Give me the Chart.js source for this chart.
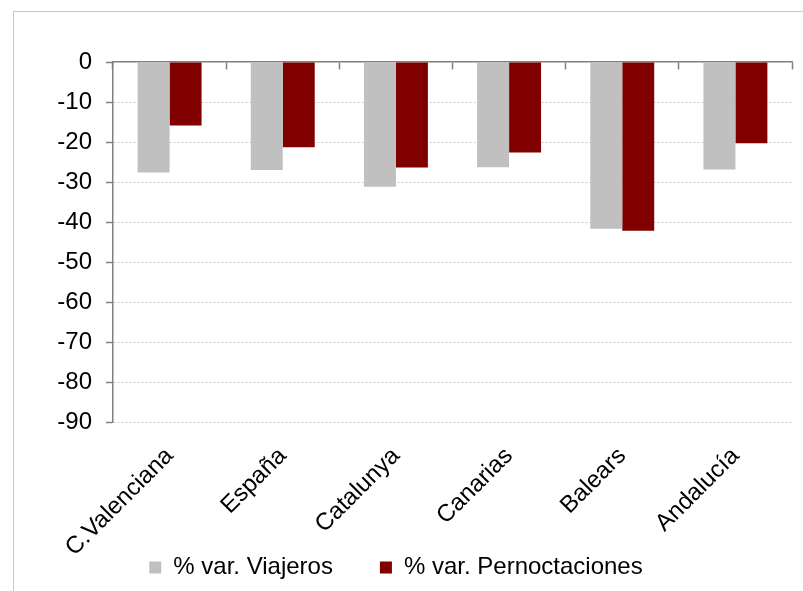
<!DOCTYPE html>
<html>
<head>
<meta charset="utf-8">
<script src="https://cdn.jsdelivr.net/npm/chart.js@4"></script>
<style>
  body { margin: 0; background: #fff; }
  #marco { position: absolute; left: 13px; top: 11px; width: 820px; height: 620px; border: 1px solid #c8c8c8; }
  #caja { position: absolute; left: 0; top: 0; width: 803px; height: 591px; }
</style>
</head>
<body>
<div id="marco"></div>
<div id="caja"><canvas id="grafico"></canvas></div>
<script>
const categorias = ['C.Valenciana', 'España', 'Catalunya', 'Canarias', 'Balears', 'Andalucía'];
const viajeros = [-27.6, -27.0, -31.2, -26.3, -41.7, -26.9];
const pernoctaciones = [-15.9, -21.3, -26.4, -22.6, -42.2, -20.3];
const nombresSeries = ['% var. Viajeros', '% var. Pernoctaciones'];
const ejeMin = -90;
const ejeMax = 0;
const paso = 10;

const fuente = { family: '"Liberation Sans", Arial, sans-serif', size: 24 };
const grisEje = '#808080';

const ctx = document.getElementById('grafico');

new Chart(ctx, {
    type: 'bar',
    data: {
        labels: categorias,
        datasets: [
            { label: nombresSeries[0], data: viajeros, backgroundColor: '#c0c0c0' },
            { label: nombresSeries[1], data: pernoctaciones, backgroundColor: '#800000' }
        ]
    },
    options: {
        responsive: true,
        maintainAspectRatio: false,
        animation: false,
        categoryPercentage: 0.565,
        barPercentage: 1,
        layout: { padding: { top: 62, left: 0, right: 11, bottom: 1.5 } },
        plugins: {
            tooltip: { enabled: false },
            legend: {
                position: 'bottom',
                labels: { boxWidth: 12, boxHeight: 12, padding: 47, color: '#000', font: fuente }
            }
        },
        scales: {
            // eje de las barras: solo reserva el hueco bajo el gráfico
            x: {
                grid: { display: false },
                border: { display: false },
                ticks: { display: false },
                afterFit: (escala) => {
                    escala.height = 86.5;
                    escala.paddingLeft = 0;
                    escala.paddingRight = 0;
                }
            },
            // etiquetas inclinadas bajo el -90 (sin recorte)
            xEtiquetas: {
                type: 'category',
                axis: 'x',
                labels: categorias,
                position: { y: ejeMin },
                offset: true,
                grid: { display: false },
                border: { display: false },
                ticks: { color: '#000', font: fuente, minRotation: 45, maxRotation: 45, autoSkip: false, padding: 12 }
            },
            // línea del cero con sus marcas entre categorías
            x2: {
                type: 'category',
                axis: 'x',
                labels: categorias,
                position: { y: 0 },
                offset: true,
                grid: { offset: true, drawOnChartArea: false, tickLength: 7, tickColor: grisEje, tickWidth: 1.5 },
                border: { color: grisEje, width: 1.5 },
                ticks: { display: false }
            },
            y: {
                min: ejeMin,
                max: ejeMax,
                ticks: { stepSize: paso, color: '#000', font: fuente, padding: 14 },
                grid: {
                    color: (c) => (c.tick && c.tick.value === 0 ? 'rgba(0,0,0,0)' : '#cfcfcf'),
                    tickColor: grisEje,
                    tickLength: 7,
                    tickWidth: 1.5
                },
                border: { color: grisEje, width: 1.5, dash: [2, 2] },
                afterFit: (escala) => {
                    escala.width = 113;
                    escala.paddingTop = 0;
                    escala.paddingBottom = 0;
                }
            }
        }
    }
});
</script>
</body>
</html>
